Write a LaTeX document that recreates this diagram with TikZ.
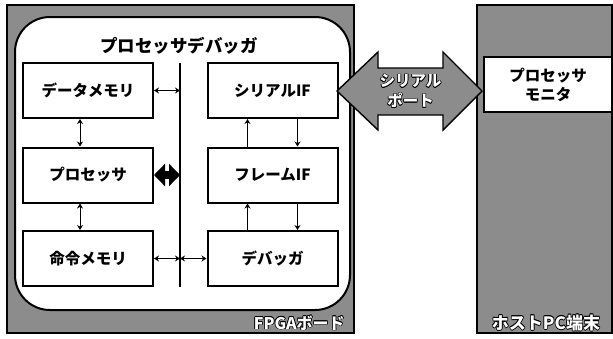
\documentclass[tikz,border=0pt]{standalone}
\usepackage{fontspec}
\setmainfont{Noto Sans CJK JP}
\usetikzlibrary{arrows.meta}
% white letters with a thin black rim
\newcommand\outlined[1]{\setbox0\hbox{#1}%
  \rlap{\kern.7pt\copy0}\rlap{\kern-.7pt\copy0}%
  \rlap{\raise.7pt\copy0}\rlap{\lower.7pt\copy0}%
  \rlap{\kern.5pt\raise.5pt\copy0}\rlap{\kern-.5pt\raise.5pt\copy0}%
  \rlap{\kern.5pt\lower.5pt\copy0}\rlap{\kern-.5pt\lower.5pt\copy0}%
  \textcolor{white}{\box0}}

\begin{document}
\begin{tikzpicture}[x=1pt,y=-1pt,line width=2pt,>={Stealth[length=5pt,width=6pt]},
  block/.style={draw,fill=white,minimum width=130pt,minimum height=55pt,inner sep=0pt,
    align=center,font=\bfseries\fontsize{15.5}{19}\selectfont},
  link/.style={line width=1pt},
  hatch/.style={draw,fill=black!45,line width=1.8pt}]
  \useasboundingbox (0,0) rectangle (613,338);
  % boards
  \draw[hatch] (7,5) rectangle (354,333);
  \draw[hatch] (477,5) rectangle (612,333);
  \draw[fill=white,line width=2pt,rounded corners=35pt] (15,17) rectangle (350,310);
  \node[font=\bfseries\fontsize{17.5}{20}\selectfont] (title) at (179,46) {プロセッサデバッガ};
  % blocks
  \node[block] (dmem)  at (88,90.5)    {データメモリ};
  \node[block] (proc)  at (88,175)     {プロセッサ};
  \node[block] (imem)  at (88,258.5)   {命令メモリ};
  \node[block] (serif) at (272.5,90.5) {シリアルIF};
  \node[block] (frmif) at (272.5,175)  {フレームIF};
  \node[block] (dbg)   at (272.5,258.5){デバッガ};
  \node[block,minimum width=128pt] (mon) at (548,84.5) {プロセッサ\\モニタ};
  % bus
  \coordinate (bustop) at (180,63);
  \coordinate (busbot) at (180,287);
  \draw[line width=1.2pt] (bustop) -- (busbot);
  \draw[link,<->] (dmem.east) -- (dmem.east -| bustop);
  \draw[link,<->] (imem.east) -- (imem.east -| bustop);
  \draw[link,<->] (imem.east -| bustop) -- (dbg.west);
  \draw[line width=8pt,{Triangle[length=11pt,width=22pt]}-{Triangle[length=11pt,width=22pt]}]
    (proc.east) -- (proc.east -| bustop);
  % links between rows
  \foreach \a/\b in {dmem/proc,proc/imem}{
    \draw[link,<->] ([xshift=-8pt]\a.south) -- ([xshift=-8pt]\b.north); }
  \foreach \a/\b in {serif/frmif,frmif/dbg}{
    \draw[link,<-] ([xshift=-25pt]\a.south) -- ([xshift=-25pt]\b.north);
    \draw[link,->] ([xshift=25pt]\a.south) -- ([xshift=25pt]\b.north); }
  % serial port
  \draw[hatch,line width=1.4pt] (337,91) -- (378,52) -- (378,68) -- (443,68) -- (443,52)
    -- (482,91) -- (443,130) -- (443,115) -- (378,115) -- (378,130) -- cycle;
  \node[align=center,font=\bfseries\fontsize{15.5}{20}\selectfont] (port) at (410.5,91)
    {\outlined{シリアル}\\\outlined{ポート}};
  % board labels
  \node[anchor=east,font=\bfseries\fontsize{16}{18}\selectfont] (fpga) at (349,323) {\outlined{FPGAボード}};
  \node[font=\bfseries\fontsize{17}{18}\selectfont] (host) at (546,323) {\outlined{ホストPC端末}};
\end{tikzpicture}
\end{document}
